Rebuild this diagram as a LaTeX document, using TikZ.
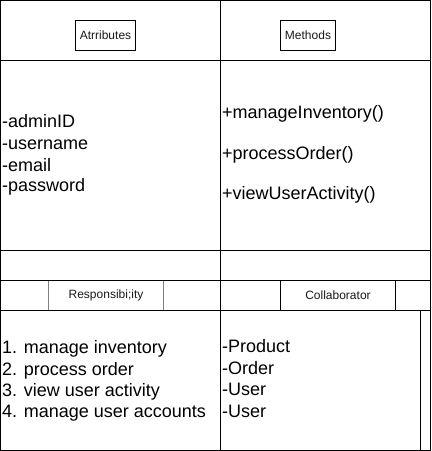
\documentclass[tikz,border=0pt]{standalone}
\usepackage{fontspec}
\setmainfont{Liberation Sans}
\begin{document}
\begin{tikzpicture}[x=1pt,y=-1pt,
  cellline/.style={draw=black,line width=1pt},
  greyline/.style={draw=black!50,line width=1.2pt},
  bigtext/.style={font=\fontsize{18}{21.4}\selectfont,inner sep=0pt,anchor=base west,text=black},
  smalllabel/.style={font=\fontsize{12}{14}\selectfont,inner sep=0pt,text=black!90},
  labelbox/.style={draw=black,line width=1pt,inner sep=0pt,minimum height=30pt}]
\useasboundingbox (0,0) rectangle (432,451);
% grid
\draw[cellline] (0.5,0.5) rectangle (430.5,450.5);
\draw[cellline] (220.5,0.5) -- (220.5,450.5);
\draw[cellline] (0.5,60.5) -- (430.5,60.5);
\draw[cellline] (0.5,250.5) -- (430.5,250.5);
\draw[cellline] (0.5,280.5) -- (430.5,280.5);
\draw[cellline] (0.5,310.5) -- (430.5,310.5);
\draw[cellline] (420.5,310.5) -- (420.5,450.5);
% header boxes
\node[labelbox,minimum width=60pt,smalllabel] (attr) at (105.5,35.5) {Atrributes};
\node[labelbox,minimum width=55pt,smalllabel] (meth) at (308,35.5) {Methods};
\draw[greyline] (48.5,281) -- (48.5,310);
\draw[greyline] (163.5,281) -- (163.5,310);
\node[smalllabel] (resp) at (106,295.5) {Responsibi;ity};
\draw[cellline] (280.5,280.5) -- (280.5,310.5);
\draw[cellline] (395.5,280.5) -- (395.5,310.5);
\node[smalllabel] (collab) at (338,295.5) {Collaborator};
% attributes
\node[bigtext] (a1) at (2,127.7) {-adminID};
\node[bigtext] (a2) at (2,149.3) {-username};
\node[bigtext] (a3) at (2,171) {-email};
\node[bigtext] (a4) at (2,191.7) {-password};
% methods
\node[bigtext] (m1) at (222,118.3) {+manageInventory()};
\node[bigtext] (m2) at (222,159) {+processOrder()};
\node[bigtext] (m3) at (222,199) {+viewUserActivity()};
% responsibilities
\node[bigtext] (r1) at (2,353.3) {1. manage inventory};
\node[bigtext] (r2) at (2,375) {2. process order};
\node[bigtext] (r3) at (2,396.7) {3. view user activity};
\node[bigtext] (r4) at (2,417.3) {4. manage user accounts};
% collaborators
\node[bigtext] (c1) at (222,352.7) {-Product};
\node[bigtext] (c2) at (222,374) {-Order};
\node[bigtext] (c3) at (222,395.7) {-User};
\node[bigtext] (c4) at (222,417.3) {-User};
\end{tikzpicture}
\end{document}
